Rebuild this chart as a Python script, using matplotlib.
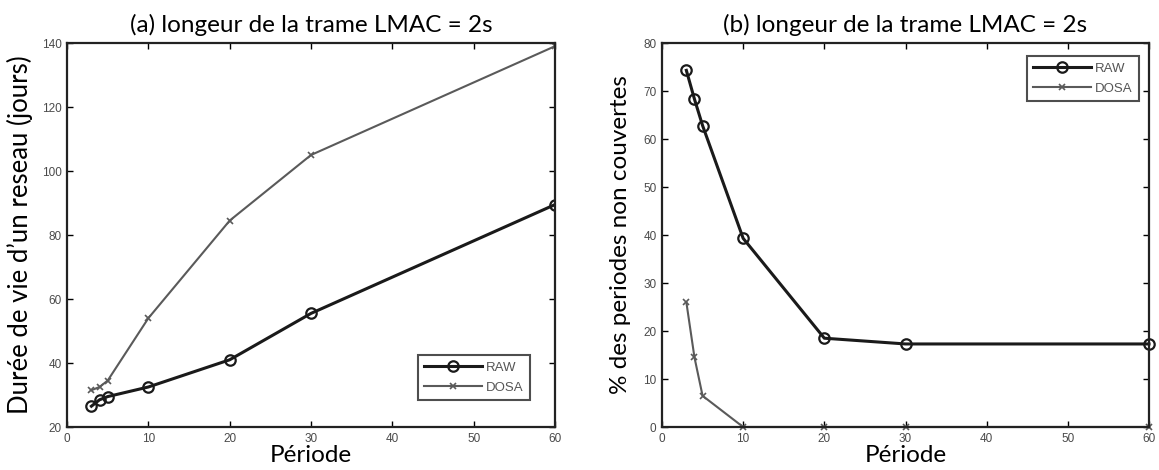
import matplotlib
matplotlib.use("Agg")
import matplotlib.pyplot as plt

periods = [3, 4, 5, 10, 20, 30, 60]

# (a) network lifetime (days)
life_raw = [26.5, 28.5, 29.5, 32.5, 41.0, 55.5, 89.5]
life_dosa = [31.5, 32.5, 34.5, 54.0, 84.5, 105.0, 139.0]

# (b) % of uncovered periods
unc_raw = [74.3, 68.3, 62.8, 39.3, 18.5, 17.3, 17.3]
unc_dosa = [26.0, 14.5, 6.5, 0.0, 0.0, 0.0, 0.0]

xticks = [0, 10, 20, 30, 40, 50, 60]
yticks_a = [20, 40, 60, 80, 100, 120, 140]
yticks_b = [0, 10, 20, 30, 40, 50, 60, 70, 80]

W, H = 1159, 470
fig = plt.figure(figsize=(W / 100, H / 100), dpi=100)

def rect(x0, y0, x1, y1):
    return [x0 / W, 1 - y1 / H, (x1 - x0) / W, (y1 - y0) / H]

ax1 = fig.add_axes(rect(67, 43, 555, 427))
ax2 = fig.add_axes(rect(662, 43, 1149, 427))

fam = ["Lato", "DejaVu Sans"]
tickcol = "#4a4a4a"

def style(ax, yticks, ylim):
    ax.set_xlim(0, 60)
    ax.set_ylim(*ylim)
    ax.set_xticks(xticks)
    ax.set_yticks(yticks)
    ax.tick_params(direction="in", top=True, right=True, length=4, width=1.0,
                   labelsize=8.5, labelcolor=tickcol, pad=4)
    for lab in ax.get_xticklabels() + ax.get_yticklabels():
        lab.set_family("Liberation Sans")
    for s in ax.spines.values():
        s.set_linewidth(1.6)
        s.set_color("#222222")

raw_kw = dict(color="#1a1a1a", lw=2.2, marker="o", ms=7.5, mfc="none", mew=1.6, label="RAW")
dosa_kw = dict(color="#5a5a5a", lw=1.5, marker="x", ms=4, mew=1.2, label="DOSA")

ax1.plot(periods, life_raw, **raw_kw)
ax1.plot(periods, life_dosa, **dosa_kw)
style(ax1, yticks_a, (20, 140))
ax1.set_title("(a) longeur de la trame LMAC = 2s", pad=8, family=fam, fontsize=17.5)
ax1.set_xlabel("Période", labelpad=0, family=fam, fontsize=17.5)
ax1.set_ylabel("Durée de vie d’un reseau (jours)", labelpad=6, family=fam, fontsize=18.5)

ax2.plot(periods, unc_raw, **raw_kw, clip_on=False)
ax2.plot(periods, unc_dosa, **dosa_kw, clip_on=False)
style(ax2, yticks_b, (0, 80))
ax2.set_title("(b) longeur de la trame LMAC = 2s", pad=8, family=fam, fontsize=17.5)
ax2.set_xlabel("Période", labelpad=0, family=fam, fontsize=17.5)
ax2.set_ylabel("% des periodes non couvertes", labelpad=9, family=fam, fontsize=17.5)

leg_kw = dict(frameon=True, fancybox=False, edgecolor="#222222", handlelength=4.4,
              borderpad=0.5, labelspacing=0.6, handletextpad=0.3,
              prop={"family": "Liberation Sans", "size": 9.5})
l1 = ax1.legend(loc="lower right", bbox_to_anchor=(0.963, 0.052), **leg_kw)
l2 = ax2.legend(loc="upper right", bbox_to_anchor=(0.994, 0.984), **leg_kw)
for lg in (l1, l2):
    lg.get_frame().set_linewidth(1.5)
    for t in lg.get_texts():
        t.set_color("#555555")

fig.savefig("out.png", dpi=100)
